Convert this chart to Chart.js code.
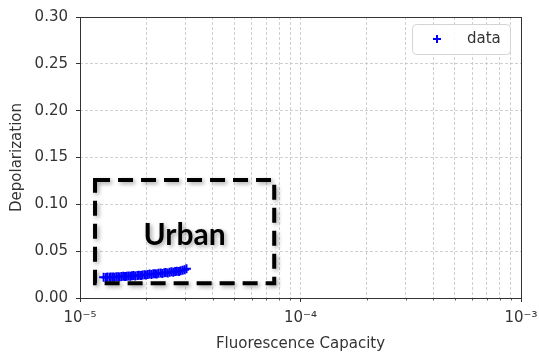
<!DOCTYPE html>
<html>
<head>
<meta charset="utf-8">
<script src="https://cdn.jsdelivr.net/npm/chart.js@4.4.1/dist/chart.umd.min.js"></script>
<style>
  html, body { margin: 0; padding: 0; background: #fff; }
  #wrap { width: 539px; height: 353px; position: relative; }
</style>
</head>
<body>
<div id="wrap"><canvas id="c" width="539" height="353"></canvas></div>
<script>
// ---- data ----
const seriesName = 'data';
const fluorescence = [1.28e-5,1.31e-5,1.33e-5,1.36e-5,1.38e-5,1.41e-5,1.43e-5,1.46e-5,1.49e-5,1.51e-5,1.54e-5,1.57e-5,1.60e-5,1.63e-5,1.66e-5,1.69e-5,1.72e-5,1.75e-5,1.78e-5,1.82e-5,1.85e-5,1.89e-5,1.92e-5,1.96e-5,1.99e-5,2.03e-5,2.07e-5,2.11e-5,2.15e-5,2.19e-5,2.23e-5,2.27e-5,2.32e-5,2.36e-5,2.41e-5,2.45e-5,2.50e-5,2.55e-5,2.60e-5,2.65e-5,2.70e-5,2.75e-5,2.81e-5,2.86e-5,2.92e-5,2.98e-5,3.04e-5];
const depolarization = [0.0222,0.0220,0.0224,0.0221,0.0223,0.0225,0.0222,0.0226,0.0228,0.0224,0.0229,0.0231,0.0229,0.0233,0.0235,0.0232,0.0237,0.0239,0.0236,0.0241,0.0244,0.0240,0.0246,0.0248,0.0245,0.0251,0.0255,0.0252,0.0258,0.0260,0.0257,0.0263,0.0266,0.0262,0.0269,0.0272,0.0268,0.0275,0.0279,0.0276,0.0282,0.0286,0.0283,0.0290,0.0296,0.0302,0.0312];
const xMajorTicks = [1e-5, 1e-4, 1e-3];
const xMajorLabels = ['10\u207B\u2075', '10\u207B\u2074', '10\u207B\u00B3'];
const xMinorTicks = [2e-5,3e-5,4e-5,5e-5,6e-5,7e-5,8e-5,9e-5,2e-4,3e-4,4e-4,5e-4,6e-4,7e-4,8e-4,9e-4];
const yTickValues = [0, 0.05, 0.10, 0.15, 0.20, 0.25, 0.30];
const regionLabel = 'Urban';
const regionBox = { xMin: 1.17e-5, xMax: 7.6e-5, yMin: 0.0158, yMax: 0.126 };

const points = fluorescence.map((x, i) => ({ x: x, y: depolarization[i] }));
const allXTicks = xMajorTicks.concat(xMinorTicks).sort((a, b) => a - b);

function majorIndex(v) {
  for (let i = 0; i < xMajorTicks.length; i++) {
    if (Math.abs(Math.log10(v) - Math.log10(xMajorTicks[i])) < 1e-6) return i;
  }
  return -1;
}

const TXT = '#333333';
const GRID = 'rgba(190,190,190,0.9)';
const FONT = 'DejaVu Sans';

const overlay = {
  id: 'overlay',
  afterDraw(chart) {
    const ctx = chart.ctx;
    const ca = chart.chartArea;
    const xs = chart.scales.x, ys = chart.scales.y;
    // frame
    ctx.save();
    ctx.strokeStyle = TXT;
    ctx.lineWidth = 1;
    ctx.strokeRect(Math.round(ca.left) + 0.5, Math.round(ca.top) + 0.5, Math.round(ca.right - ca.left), Math.round(ca.bottom - ca.top));
    // minor tick marks on the x axis
    ctx.beginPath();
    xMinorTicks.forEach(v => {
      const px = Math.round(xs.getPixelForValue(v)) + 0.5;
      ctx.moveTo(px, ca.bottom);
      ctx.lineTo(px, ca.bottom + 2.5);
    });
    ctx.lineWidth = 0.8;
    ctx.stroke();
    ctx.restore();

    // legend
    ctx.save();
    const lw = 98, lh = 30;
    const lx = ca.right - 11 - lw, ly = ca.top + 7;
    ctx.beginPath();
    if (ctx.roundRect) ctx.roundRect(lx + 0.5, ly + 0.5, lw, lh, 4); else ctx.rect(lx + 0.5, ly + 0.5, lw, lh);
    ctx.fillStyle = 'rgba(255,255,255,0.85)';
    ctx.fill();
    ctx.strokeStyle = '#d4d4d4';
    ctx.lineWidth = 1;
    ctx.stroke();
    const mx = lx + 25, my = ly + lh / 2;
    ctx.strokeStyle = '#0000ff';
    ctx.lineWidth = 2;
    ctx.beginPath();
    ctx.moveTo(mx - 4, my); ctx.lineTo(mx + 4, my);
    ctx.moveTo(mx, my - 4); ctx.lineTo(mx, my + 4);
    ctx.stroke();
    ctx.fillStyle = TXT;
    ctx.font = '15px "' + FONT + '"';
    ctx.textBaseline = 'middle';
    ctx.textAlign = 'left';
    ctx.fillText(seriesName, lx + 55, my);
    ctx.restore();

    // dashed region box
    const bx1 = xs.getPixelForValue(regionBox.xMin);
    const bx2 = xs.getPixelForValue(regionBox.xMax);
    const by1 = ys.getPixelForValue(regionBox.yMax);
    const by2 = ys.getPixelForValue(regionBox.yMin);
    ctx.save();
    ctx.shadowColor = 'rgba(0,0,0,0.35)';
    ctx.shadowBlur = 4;
    ctx.shadowOffsetX = 2;
    ctx.shadowOffsetY = 2;
    ctx.strokeStyle = '#000';
    ctx.lineWidth = 4;
    ctx.setLineDash([15, 8]);
    ctx.strokeRect(bx1, by1, bx2 - bx1, by2 - by1);
    ctx.setLineDash([]);
    ctx.fillStyle = '#000';
    ctx.font = 'bold 30px Lato';
    ctx.textAlign = 'center';
    ctx.textBaseline = 'middle';
    ctx.fillText(regionLabel, (bx1 + bx2) / 2, by1 + 55);
    ctx.restore();
  }
};

new Chart(document.getElementById('c'), {
  type: 'scatter',
  data: {
    datasets: [{
      label: seriesName,
      data: points,
      pointStyle: 'cross',
      pointRadius: 4.5,
      pointHoverRadius: 4.5,
      borderWidth: 2,
      borderColor: '#0000ff',
      backgroundColor: '#0000ff'
    }]
  },
  options: {
    responsive: false,
    animation: false,
    devicePixelRatio: 1,
    layout: { padding: { left: 0, top: 13, right: 18, bottom: 0 } },
    plugins: { legend: { display: false }, tooltip: { enabled: false } },
    scales: {
      x: {
        type: 'logarithmic',
        min: 1e-5,
        max: 1e-3,
        afterBuildTicks(scale) {
          scale.ticks = allXTicks.map(v => ({ value: v, major: majorIndex(v) >= 0 }));
        },
        afterFit(scale) { scale.height = 55; scale.paddingLeft = 0; scale.paddingRight = 0; },
        border: { display: false, dash: [3, 2] },
        grid: {
          color: GRID,
          lineWidth: 0.8,
          drawTicks: true,
          tickLength: 4,
          tickColor: (c) => (c.tick && majorIndex(c.tick.value) >= 0) ? TXT : 'rgba(0,0,0,0)',
          tickBorderDash: [],
          tickWidth: 1
        },
        ticks: {
          autoSkip: false,
          maxRotation: 0,
          minRotation: 0,
          padding: 7,
          color: TXT,
          font: { family: FONT, size: 15 },
          callback: (v) => { const i = majorIndex(v); return i >= 0 ? xMajorLabels[i] : ''; }
        },
        title: {
          display: true,
          text: 'Fluorescence Capacity',
          color: TXT,
          font: { family: FONT, size: 15 },
          padding: { top: 8, bottom: 0 }
        }
      },
      y: {
        min: 0,
        max: 0.3,
        afterBuildTicks(scale) {
          scale.ticks = yTickValues.map(v => ({ value: v }));
        },
        afterFit(scale) { scale.width = 80; },
        border: { display: false, dash: [3, 2] },
        grid: {
          color: GRID,
          lineWidth: 0.8,
          drawTicks: true,
          tickLength: 4,
          tickColor: TXT,
          tickBorderDash: [],
          tickWidth: 1
        },
        ticks: {
          padding: 8,
          color: TXT,
          font: { family: FONT, size: 15 },
          callback: (v) => Number(v).toFixed(2)
        },
        title: {
          display: true,
          text: 'Depolarization',
          color: TXT,
          font: { family: FONT, size: 15 },
          padding: { top: 8, bottom: 0 }
        }
      }
    }
  },
  plugins: [overlay]
});
</script>
</body>
</html>
